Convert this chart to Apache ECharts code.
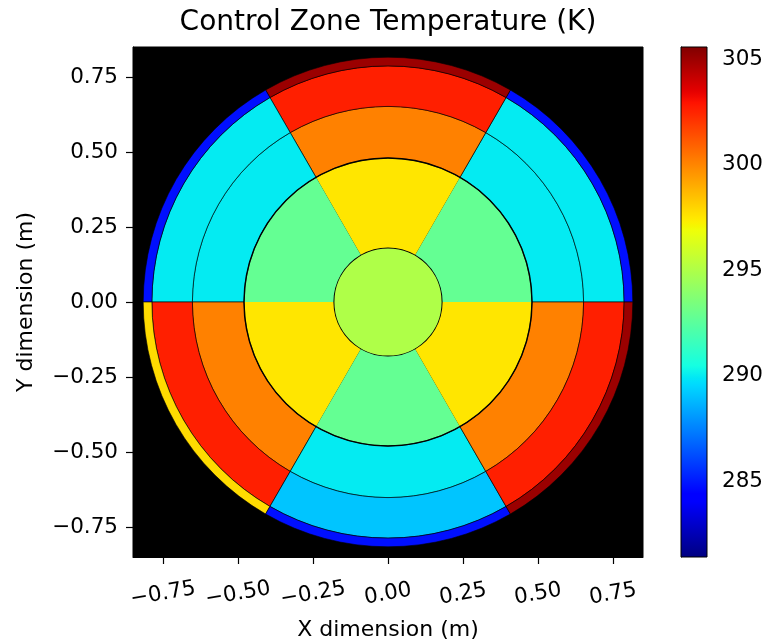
<!DOCTYPE html>
<html>
<head>
<meta charset="utf-8">
<title>Control Zone Temperature (K)</title>
<script src="https://cdn.jsdelivr.net/npm/echarts@6/dist/echarts.min.js"></script>
<style>
  html, body { margin: 0; padding: 0; background: #fff; }
  #chart { width: 768px; height: 642px; }
</style>
</head>
<body>
<div id="chart"></div>
<script>
// ---- Data -------------------------------------------------------------
// Zone layout: sector boundaries (degrees, counter-clockwise from +x) and ring radii (m)
const sectorAngles = [0, 60, 120, 180, 240, 300, 360];
const ringRadii = [0, 0.182, 0.48, 0.652, 0.787, 0.816];
const centre = [0, 0];

// Zone temperatures (K); sector order follows sectorAngles
const coreTemp = 295.0;
const ring1Temp = [292.8, 297.5, 292.8, 297.5, 292.8, 297.5];
const ring2Temp = [290.0, 300.1, 290.0, 300.1, 290.0, 300.1];
const ring3Temp = [290.0, 302.6, 290.0, 302.6, 289.1, 302.6];
const ring4Temp = [284.8, 305.0, 284.8, 297.8, 284.8, 305.0];

// Colour scale limits and ticks
const tempRange = [281.42, 305.57];
const tempTicks = [285, 290, 295, 300, 305];
const axisLimits = [-0.85, 0.85];
const axisTicks = [-0.75, -0.5, -0.25, 0, 0.25, 0.5, 0.75];

// ---- Jet colormap -----------------------------------------------------
const jetSeg = {
  r: [[0, 0], [0.35, 0], [0.66, 1], [0.89, 1], [1, 0.5]],
  g: [[0, 0], [0.125, 0], [0.375, 1], [0.64, 1], [0.91, 0], [1, 0]],
  b: [[0, 0.5], [0.11, 1], [0.34, 1], [0.65, 0], [1, 0]]
};
function segInterp(seg, t) {
  for (let i = 1; i < seg.length; i++) {
    if (t <= seg[i][0]) {
      const [x0, y0] = seg[i - 1], [x1, y1] = seg[i];
      return y0 + (y1 - y0) * (t - x0) / (x1 - x0);
    }
  }
  return seg[seg.length - 1][1];
}
function jet(t) {
  const c = ['r', 'g', 'b'].map(k => Math.round(255 * segInterp(jetSeg[k], t)));
  return 'rgb(' + c.join(',') + ')';
}
const jetColors = [];
for (let i = 0; i <= 128; i++) jetColors.push(jet(i / 128));
const jetStops = jetColors.map((c, i) => ({ offset: i / 128, color: c }));

// ---- Build zone cells -------------------------------------------------
// ring edge line widths: core outline, inner ring (none), outer rings thin
const ringEdgeWidth = [2, 0, 0.6, 0.6, 0.6];
const ringTemps = [ring1Temp, ring2Temp, ring3Temp, ring4Temp];
const cells = [[sectorAngles[0], sectorAngles[6], ringRadii[0], ringRadii[1], coreTemp, ringEdgeWidth[0]]];
ringTemps.forEach((temps, ri) => {
  temps.forEach((t, si) => {
    cells.push([sectorAngles[si], sectorAngles[si + 1], ringRadii[ri + 1], ringRadii[ri + 2], t, ringEdgeWidth[ri + 1]]);
  });
});
// emphasised outline at the outer edge of the inner ring
const outlines = [[ringRadii[2], 1.4]];

const FONT = 'DejaVu Sans';
const fmt = v => (v < 0 ? '\u2212' : '') + Math.abs(v).toFixed(2);

const chart = echarts.init(document.getElementById('chart'), null, { renderer: 'canvas' });

function renderCell(params, api) {
  const a0 = api.value(0), a1 = api.value(1);
  const r0 = api.value(2), r1 = api.value(3);
  const lw = api.value(5);
  const c = api.coord(centre);
  const pr0 = api.size([r0, 0])[0];
  const pr1 = api.size([r1, 0])[0];
  const style = { fill: api.visual('color'), stroke: lw > 0 ? '#000' : null, lineWidth: lw };
  if (a1 - a0 >= 360 && r0 === 0) {
    return { type: 'circle', shape: { cx: c[0], cy: c[1], r: pr1 }, style };
  }
  return {
    type: 'sector',
    shape: {
      cx: c[0], cy: c[1], r0: pr0, r: pr1,
      startAngle: -a1 * Math.PI / 180, endAngle: -a0 * Math.PI / 180, clockwise: true
    },
    style
  };
}

function renderOutline(params, api) {
  const c = api.coord(centre);
  const pr = api.size([api.value(0), 0])[0];
  return {
    type: 'circle',
    shape: { cx: c[0], cy: c[1], r: pr },
    style: { fill: null, stroke: '#000', lineWidth: api.value(1) }
  };
}

function renderColorbar(params, api) {
  const p0 = api.coord([0, api.value(1)]);
  const p1 = api.coord([1, api.value(0)]);
  return {
    type: 'rect',
    shape: { x: p0[0], y: p0[1], width: p1[0] - p0[0], height: p1[1] - p0[1] },
    style: {
      fill: new echarts.graphic.LinearGradient(0, 1, 0, 0, jetStops),
      stroke: '#000', lineWidth: 1
    }
  };
}

const labelStyle = { fontFamily: FONT, fontSize: 21.5, color: '#000' };

chart.setOption({
  animation: false,
  backgroundColor: '#fff',
  textStyle: { fontFamily: FONT },
  graphic: [{
    type: 'text', x: 388, y: 23,
    style: { text: 'Control Zone Temperature (K)', fontFamily: FONT, fontSize: 28, fill: '#000', align: 'center', verticalAlign: 'middle' }
  }],
  grid: [
    { left: 133, top: 47, width: 510, height: 510, outerBoundsMode: 'none', containLabel: false,
      show: true, backgroundColor: '#000', borderColor: '#000', borderWidth: 1 },
    { left: 681, top: 47, width: 26, height: 510, outerBoundsMode: 'none', containLabel: false, show: false }
  ],
  xAxis: [{
    gridIndex: 0, type: 'value', min: axisLimits[0], max: axisLimits[1],
    name: 'X dimension (m)', nameLocation: 'middle', nameGap: 62,
    nameTextStyle: { fontFamily: FONT, fontSize: 22, color: '#000' },
    axisLine: { show: true, onZero: false, lineStyle: { color: '#000', width: 1 } },
    axisTick: { show: true, customValues: axisTicks, length: 7, lineStyle: { color: '#000', width: 1.2 } },
    axisLabel: Object.assign({ customValues: axisTicks, formatter: fmt, rotate: 10, margin: 37, align: 'center', verticalAlign: 'middle' }, labelStyle),
    splitLine: { show: false }
  }, {
    gridIndex: 1, type: 'value', min: 0, max: 1, show: false
  }],
  yAxis: [{
    gridIndex: 0, type: 'value', min: axisLimits[0], max: axisLimits[1],
    name: 'Y dimension (m)', nameLocation: 'middle', nameGap: 96,
    nameTextStyle: { fontFamily: FONT, fontSize: 22, color: '#000' },
    axisLine: { show: true, onZero: false, lineStyle: { color: '#000', width: 1 } },
    axisTick: { show: true, customValues: axisTicks, length: 7, lineStyle: { color: '#000', width: 1.2 } },
    axisLabel: Object.assign({ customValues: axisTicks, formatter: fmt, margin: 15 }, labelStyle),
    splitLine: { show: false }
  }, {
    gridIndex: 1, type: 'value', position: 'right', min: tempRange[0], max: tempRange[1],
    axisLine: { show: true, lineStyle: { color: '#000', width: 1 } },
    axisTick: { show: true, customValues: tempTicks, length: 7, lineStyle: { color: '#000', width: 1.2 } },
    axisLabel: Object.assign({ customValues: tempTicks, formatter: v => String(v), margin: 15 }, labelStyle),
    splitLine: { show: false }
  }],
  visualMap: {
    type: 'continuous', show: false, seriesIndex: 0, dimension: 4,
    min: tempRange[0], max: tempRange[1],
    inRange: { color: jetColors }
  },
  series: [{
    type: 'custom', xAxisIndex: 0, yAxisIndex: 0, clip: true,
    renderItem: renderCell, data: cells
  }, {
    type: 'custom', xAxisIndex: 0, yAxisIndex: 0, clip: true,
    renderItem: renderOutline, data: outlines
  }, {
    type: 'custom', xAxisIndex: 1, yAxisIndex: 1,
    renderItem: renderColorbar, data: [tempRange]
  }]
});
</script>
</body>
</html>
